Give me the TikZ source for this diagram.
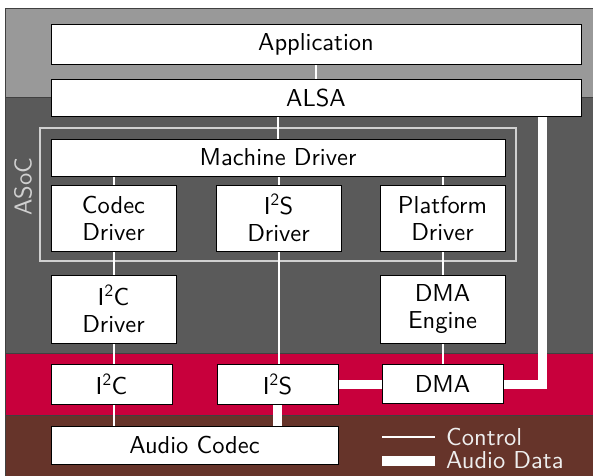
\documentclass[tikz,border=0pt]{standalone}
\usepackage{fontspec}
\setsansfont{lmsans10-regular.otf}
\usetikzlibrary{calc}
\definecolor{userband}{HTML}{999999}
\definecolor{kernelband}{HTML}{5A5A5A}
\definecolor{hwband}{HTML}{C8003C}
\definecolor{boardband}{HTML}{66342A}
\definecolor{framegray}{HTML}{D0D0D0}
\definecolor{legendtext}{HTML}{EEEEEE}
\pgfdeclarelayer{bands}
\pgfdeclarelayer{links}
\pgfsetlayers{bands,links,main}
\newcommand\labelfont{\sffamily\fontsize{24.5}{27}\selectfont}
\tikzset{
  block/.style={draw=black, line width=0.9pt, fill=white, inner sep=0pt,
    align=center, text=black, font=\labelfont},
  ctrl/.style={draw=white, line width=2pt},
  audio/.style={draw=white, line width=9pt, line join=miter},
  band/.style={draw=black!75, line width=0.6pt},
}
\begin{document}
\begin{tikzpicture}[x=1pt, y=-1pt]
\useasboundingbox (0,0) rectangle (593,475);
\clip (0,0) rectangle (593,475);

% software / hardware layers
\begin{pgfonlayer}{bands}
  \path[band, fill=userband]   (5,8)   rectangle (600,97);
  \path[band, fill=kernelband] (5,97)  rectangle (600,353);
  \path[band, fill=hwband]     (5,353) rectangle (600,415);
  \path[band, fill=boardband]  (5,415) rectangle (600,480);
  \draw[framegray, line width=1.3pt] (40,128) rectangle (516,261);
\end{pgfonlayer}

\node[text=framegray, rotate=90, font=\labelfont] (asoc) at (23,187) {ASoC};

% blocks
\node[block, minimum width=530pt, minimum height=40pt] (app) at (316,44) {Application};
\node[block, minimum width=530pt, minimum height=37pt] (alsa) at (316,97.5) {ALSA};
\node[block, minimum width=454pt, minimum height=37pt] (machine) at (278,157.5) {Machine Driver};
\node[block, minimum width=125pt, minimum height=66pt] (codecdrv) at (113.5,218) {Codec\\Driver};
\node[block, minimum width=125pt, minimum height=66pt] (i2sdrv) at (278.5,218) {I\textsuperscript{2}S\\Driver};
\node[block, minimum width=125pt, minimum height=66pt] (platdrv) at (442.5,218) {Platform\\Driver};
\node[block, minimum width=125pt, minimum height=68pt] (i2cdrv) at (113.5,309) {I\textsuperscript{2}C\\Driver};
\node[block, minimum width=125pt, minimum height=68pt] (dmaeng) at (442.5,309) {DMA\\Engine};
\node[block, minimum width=121pt, minimum height=40pt] (i2c) at (111.5,384) {I\textsuperscript{2}C};
\node[block, minimum width=121pt, minimum height=40pt] (i2s) at (277.5,384) {I\textsuperscript{2}S};
\node[block, minimum width=121pt, minimum height=39pt] (dma) at (442.5,384) {DMA};
\node[block, minimum width=287pt, minimum height=38pt] (codec) at (194.5,445) {Audio Codec};

\coordinate (bend) at (542,384);

% connectors
\begin{pgfonlayer}{links}
  \draw[ctrl] (app) -- (alsa);
  \draw[ctrl] (alsa.south -| machine) -- (machine);
  \draw[ctrl] (machine.south -| codecdrv) -- (codecdrv);
  \draw[ctrl] (machine.south -| i2sdrv) -- (i2sdrv);
  \draw[ctrl] (machine.south -| platdrv) -- (platdrv);
  \draw[ctrl] (codecdrv) -- (i2cdrv);
  \draw[ctrl] (i2cdrv.south) -- (i2cdrv.south |- i2c.north);
  \draw[ctrl] (i2cdrv.south |- i2c.south) -- (i2cdrv.south |- codec.north);
  \draw[ctrl] (i2sdrv.south) -- (i2sdrv.south |- i2s.north);
  \draw[ctrl] (platdrv) -- (dmaeng);
  \draw[ctrl] (dmaeng) -- (dma);
  \draw[audio] (i2s.south) -- (i2s.south |- codec.north);
  \draw[audio] (i2s) -- (dma);
  \draw[audio] (dma.east) -- (bend) -- (bend |- alsa.south);
\end{pgfonlayer}

% legend
\coordinate (lc1) at (382,437);
\coordinate (lc2) at (435,437);
\coordinate (la1) at (382,460.5);
\coordinate (la2) at (435,460.5);
\draw[white, line width=2.3pt] (lc1) -- (lc2);
\draw[white, line width=10pt] (la1) -- (la2);
\node[anchor=base west, inner sep=0pt, text=legendtext, font=\labelfont] (lgc) at (446,445) {Control};
\node[anchor=base west, inner sep=0pt, text=legendtext, font=\labelfont] (lga) at (446,468) {Audio Data};
\end{tikzpicture}
\end{document}
